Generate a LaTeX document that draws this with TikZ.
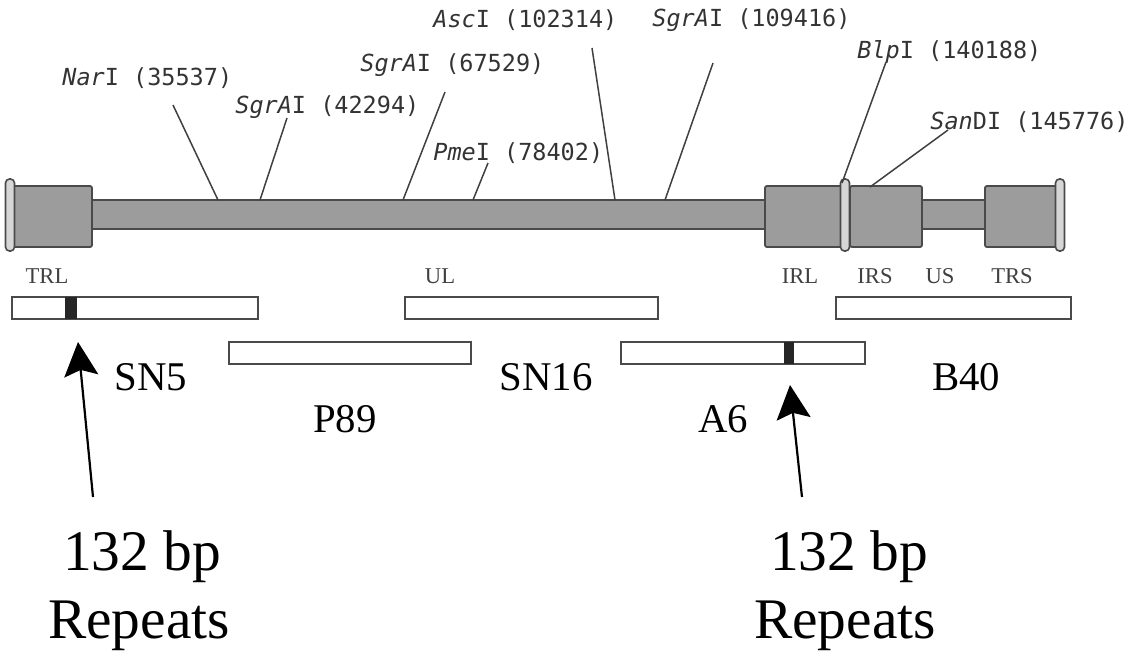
\documentclass[tikz,border=0pt]{standalone}
\usepackage{fontspec}
\setmainfont{Liberation Serif}
\newfontfamily\enzfont{DejaVu Sans Mono}
\usepackage{tikz}
\usetikzlibrary{calc,arrows.meta}

\definecolor{bargray}{HTML}{9C9C9C}
\definecolor{edgegray}{HTML}{4A4A4A}
\definecolor{capgray}{HTML}{D6D6D6}

\tikzset{
  bar/.style={fill=bargray, draw=edgegray, line width=0.9pt},
  block/.style={fill=bargray, draw=edgegray, line width=0.9pt, rounded corners=1pt},
  endcap/.style={fill=capgray, draw=edgegray, line width=0.8pt, rounded corners=2pt},
  frag/.style={fill=white, draw=edgegray, line width=0.7pt},
  repmark/.style={fill=black!85},
  enz/.style={font=\enzfont\fontsize{11.75}{13}\selectfont, text=black!80, inner sep=0pt, anchor=west},
  enzline/.style={draw=black!75, line width=0.75pt},
  seglabel/.style={font=\fontsize{11.3}{13}\selectfont, text=black!75, inner sep=0pt, anchor=base},
  fraglabel/.style={font=\fontsize{20.4}{24}\selectfont, inner sep=0pt, anchor=base},
  replabel/.style={font=\fontsize{28.7}{34}\selectfont, inner sep=0pt, anchor=base},
  reparrow/.style={line width=1.1pt, -{Stealth[length=17pt,width=17pt,inset=3pt]}},
}

\begin{document}
\begin{tikzpicture}[x=0.5pt,y=-0.5pt]
\useasboundingbox (0,0) rectangle (1130,650);

%%% GENOME MAP
% long and short unique regions as one bar
\draw[bar] (90,200) rectangle (987,229);

% repeat blocks TRL, IRL, IRS, TRS
\foreach \xa/\xb in {13/92, 765/843, 850/922, 985/1057}
  \draw[block] (\xa,186) rectangle (\xb,247);

% end caps and junction
\foreach \xc in {10, 845, 1060}
  \draw[endcap] (\xc-4.5,179) rectangle (\xc+4.5,251);

% region names under the bar
\foreach \t/\x in {TRL/47, UL/440, IRL/800, IRS/875, US/940, TRS/1012}
  \node[seglabel] (\t) at (\x,283) {\t};

%%% RESTRICTION SITES
\node[enz] (nar) at (62,78) {{\itshape Nar}I (35537)};
\node[enz] (sgra) at (235,107) {{\itshape SgrA}I (42294)};
\node[enz] (sgrb) at (360,65) {{\itshape SgrA}I (67529)};
\node[enz] (pme) at (433,153) {{\itshape Pme}I (78402)};
\node[enz] (asc) at (433,20) {{\itshape Asc}I (102314)};
\node[enz] (sgrc) at (652,20) {{\itshape SgrA}I (109416)};
\node[enz] (blp) at (857,52) {{\itshape Blp}I (140188)};
\node[enz] (sand) at (930,122) {{\itshape San}DI (145776)};

% line from each label down to its site
\foreach \s/\tx/\ty/\bx/\by in {nar/173/105/218/200, sgra/287/118/260/200,
    sgrb/445/92/403/200, pme/488/163/473/200, asc/592/48/615/200,
    sgrc/713/63/665/200, blp/886/62/842/183, sand/948/130/870/187}
{
  \coordinate (\s top) at (\tx,\ty);
  \coordinate (\s site) at (\bx,\by);
  \draw[enzline] (\s top) -- (\s site);
}

%%% CLONED FRAGMENTS
% left/right/top of each box
\foreach \xa/\xb/\ya in {12/258/297, 405/658/297, 836/1071/297, 229/471/342, 621/865/342}
  \draw[frag] (\xa,\ya) rectangle (\xb,\ya+22);

% the 132 bp repeats
\fill[repmark] (65,297) rectangle (77,319);
\fill[repmark] (784,342) rectangle (794,364);

\node[fraglabel] (sn5) at (151,390) {SN5};
\node[fraglabel] (p89) at (345,432) {P89};
\node[fraglabel] (sn16) at (546,390) {SN16};
\node[fraglabel] (a6) at (723,432) {A6};
\node[fraglabel] (b40) at (966,390) {B40};

%%% REPEAT ARROWS
\node[replabel] (bpL) at (142,570) {132 bp};
\node[replabel] (rpL) at (139,638) {Repeats};
\node[replabel] (bpR) at (849,570) {132 bp};
\node[replabel] (rpR) at (845,638) {Repeats};

\coordinate (tailL) at (93,497);
\coordinate (tipL) at (78,342);
\coordinate (tailR) at (802,497);
\coordinate (tipR) at (790,385);
\draw[reparrow] (tailL) -- (tipL);
\draw[reparrow] (tailR) -- (tipR);
\end{tikzpicture}
\end{document}
